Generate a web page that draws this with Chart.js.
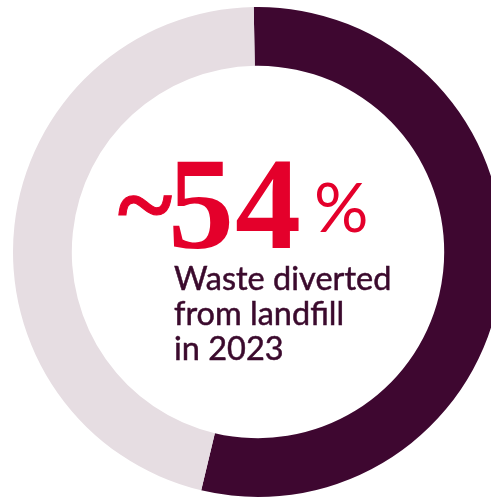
<!DOCTYPE html>
<html>
<head>
<meta charset="utf-8">
<script src="https://cdn.jsdelivr.net/npm/chart.js@4"></script>
<style>
  html, body { margin: 0; padding: 0; background: #fff; overflow: hidden; width: 491px; height: 500px; }
  #wrap { position: absolute; left: 0; top: 0; width: 516px; height: 504px; }
  .lbl { position: absolute; white-space: nowrap; }
  #tilde { left: 118px; top: 152px; font: bold 104px/104px "Liberation Serif", serif; color: #e4002b; -webkit-text-stroke: 1px #e4002b; }
  #big { left: 168px; top: 138px; font: bold 132px/132px "Liberation Serif", serif; color: #e4002b; letter-spacing: 1px; }
  #pct { left: 314px; top: 172px; font: 400 68px/68px Lato, sans-serif; color: #e4002b; }
  #caption { left: 174px; top: 260px; font: 400 32.5px/35px Lato, sans-serif; color: #3b0a2d; -webkit-text-stroke: 0.5px #3b0a2d; }
</style>
</head>
<body>
<div id="wrap"><canvas id="chart-residuos"></canvas></div>
<div class="lbl" id="tilde">~</div>
<div class="lbl" id="big">54</div>
<div class="lbl" id="pct">%</div>
<div class="lbl" id="caption">Waste diverted<br>from landfill<br>in 2023</div>

<script>
// Datos del gráfico
const categorias = ['Diverted from landfill', 'Landfill'];
const valores = [54, 46];
const colores = ['#3e0730', '#e6dde2'];

document.addEventListener('DOMContentLoaded', () => {
  initChart();
});

/**
 * Dibuja el donut con el porcentaje desviado en oscuro.
 */
function initChart() {
  const ctx = document.getElementById('chart-residuos');
  new Chart(ctx, {
    type: 'doughnut',
    data: {
      labels: categorias,
      datasets: [{
        data: valores,
        backgroundColor: colores,
        borderWidth: 0,
        hoverOffset: 0
      }]
    },
    options: {
      responsive: true,
      maintainAspectRatio: false,
      animation: false,
      rotation: -1,
      cutout: '76%',
      layout: { padding: 7 },
      plugins: {
        legend: { display: false },
        tooltip: { enabled: false }
      }
    }
  });
}
</script>
</body>
</html>
